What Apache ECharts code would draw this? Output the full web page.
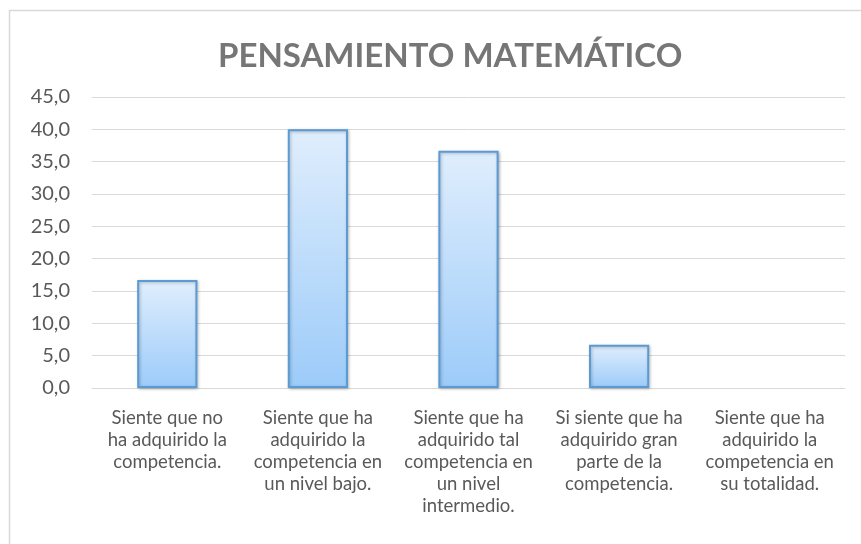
<!DOCTYPE html>
<html>
<head>
<meta charset="utf-8">
<script src="https://cdn.jsdelivr.net/npm/echarts@6/dist/echarts.min.js"></script>
<style>
  html, body { margin: 0; padding: 0; background: #fff; }
  #main { width: 861px; height: 544px; }
</style>
</head>
<body>
<div id="main"></div>
<script>
var titleText = 'PENSAMIENTO MATEMÁTICO';
var categories = [
  'Siente que no\nha adquirido la\ncompetencia.',
  'Siente que ha\nadquirido la\ncompetencia en\nun nivel bajo.',
  'Siente que ha\nadquirido tal\ncompetencia en\nun nivel\nintermedio.',
  'Si siente que ha\nadquirido gran\nparte de la\ncompetencia.',
  'Siente que ha\nadquirido la\ncompetencia en\nsu totalidad.'
];
var values = [16.7, 40.0, 36.7, 6.7, 0];

var chart = echarts.init(document.getElementById('main'));
var fontFam = 'Lato, "Open Sans", sans-serif';

// zero bars get no outline, like the original
var barData = values.map(function (v) {
  return v === 0 ? { value: v, itemStyle: { borderWidth: 0, shadowBlur: 0 } } : v;
});

var option = {
  backgroundColor: '#fff',
  animation: false,
  graphic: [{
    type: 'rect',
    shape: { x: 9.5, y: 10.5, width: 900, height: 600 },
    style: { fill: 'none', stroke: '#d9d9d9', lineWidth: 1.5 },
    silent: true
  }],
  title: {
    text: titleText,
    left: 213,
    top: 35,
    textStyle: {
      color: '#767676',
      fontSize: 33,
      fontWeight: 'bold',
      fontFamily: fontFam
    }
  },
  grid: { left: 92, right: 16, top: 97, bottom: 156 },
  xAxis: {
    type: 'category',
    data: categories,
    axisLine: { show: true, lineStyle: { color: '#d9d9d9', width: 1 } },
    axisTick: { show: false },
    axisLabel: {
      interval: 0,
      color: '#595959',
      fontSize: 18.5,
      lineHeight: 22,
      margin: 19,
      fontFamily: fontFam
    }
  },
  yAxis: {
    type: 'value',
    min: 0,
    max: 45,
    interval: 5,
    axisLine: { show: false },
    axisTick: { show: false },
    splitLine: { lineStyle: { color: '#d9d9d9', width: 1 } },
    axisLabel: {
      color: '#595959',
      fontSize: 20,
      margin: 22,
      fontFamily: fontFam,
      formatter: function (v) { return v.toFixed(1).replace('.', ','); }
    }
  },
  series: [{
    type: 'bar',
    data: barData,
    barWidth: '40%',
    itemStyle: {
      color: new echarts.graphic.LinearGradient(0, 0, 0, 1, [
        { offset: 0, color: '#e0eefd' },
        { offset: 1, color: '#9ccbf9' }
      ]),
      borderColor: '#5b9bd5',
      borderWidth: 2,
      shadowColor: 'rgba(0,0,0,0.25)',
      shadowBlur: 3,
      shadowOffsetX: 1,
      shadowOffsetY: 1
    }
  }]
};

chart.setOption(option);
</script>
</body>
</html>
